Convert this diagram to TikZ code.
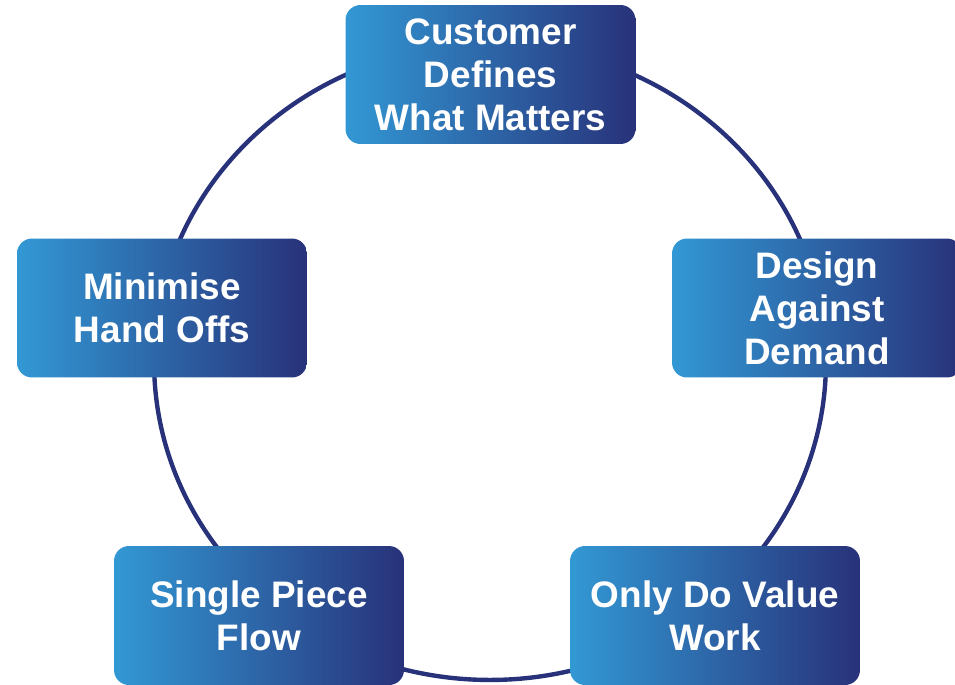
\documentclass[tikz,border=0pt]{standalone}
\usepackage{fontspec}
\setmainfont{Liberation Sans}
\usetikzlibrary{positioning}

\definecolor{lightblue}{RGB}{50,152,212}
\definecolor{navyblue}{RGB}{40,50,122}

\begin{document}
\begin{tikzpicture}[
    x=0.02cm, y=-0.02cm,
    principlebox/.style={rectangle, rounded corners=0.3cm, minimum width=5.8cm, minimum height=2.78cm, text centered, align=center, left color=lightblue, right color=navyblue, draw=none, text=white, font=\fontsize{21}{24.5}\selectfont\bfseries},
    loopline/.style={draw=navyblue, line width=2.5pt}
]
\useasboundingbox (0,0) rectangle (955,684);

% Cycle behind the boxes
\coordinate (hub) at (490,362);
\draw[loopline] (hub) ellipse [x radius=6.72cm, y radius=6.36cm];

% Principles
\node[principlebox] (customer) at (490.5,74.5) {Customer\\Defines\\What Matters};
\node[principlebox] (design) at (817,308) {Design\\Against\\Demand};
\node[principlebox] (value) at (715,615.5) {Only Do Value\\Work};
\node[principlebox] (flow) at (259,615.5) {Single Piece\\Flow};
\node[principlebox] (handoffs) at (162,308) {Minimise\\Hand Offs};

\end{tikzpicture}
\end{document}
